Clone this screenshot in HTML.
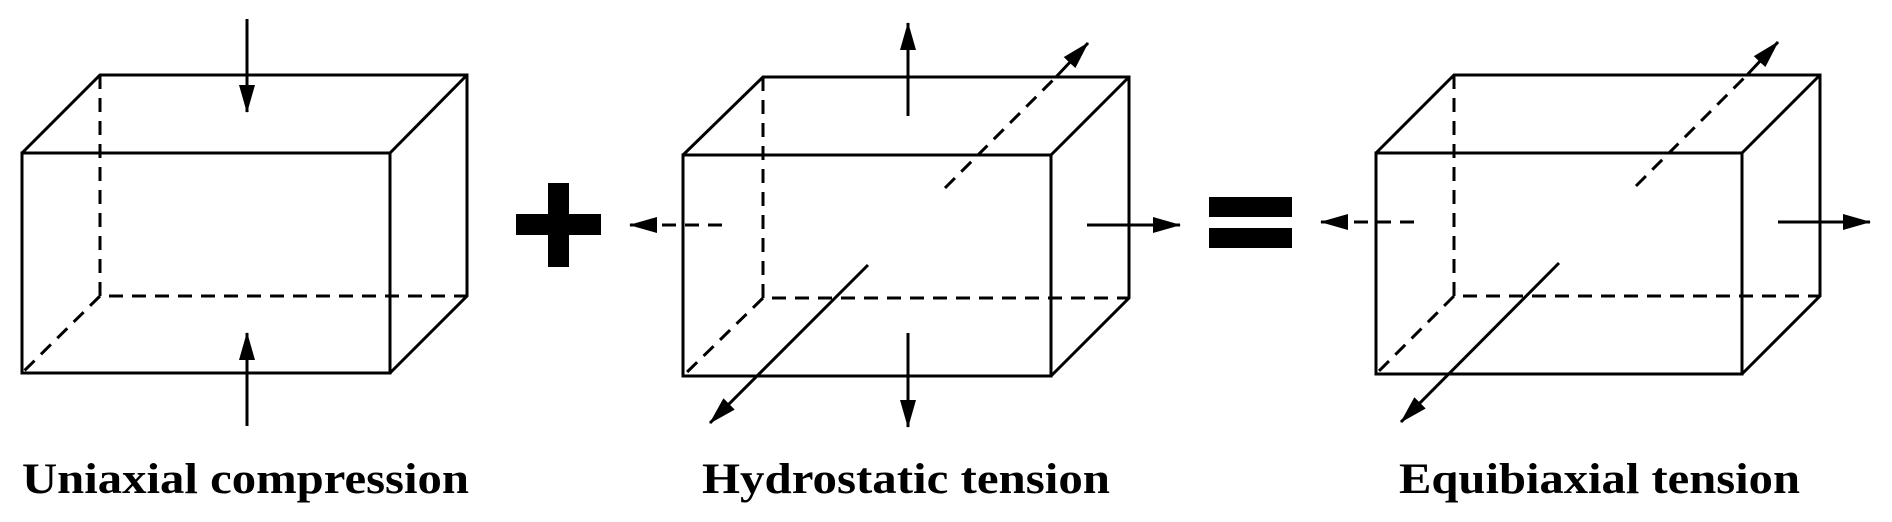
<!DOCTYPE html>
<html><head><meta charset="utf-8"><style>html,body{margin:0;padding:0;background:#fff;}svg{display:block}</style></head>
<body>
<svg width="1892" height="522" viewBox="0 0 1892 522" xmlns="http://www.w3.org/2000/svg">
<defs>
<marker id="a" viewBox="0 0 28 16" refX="27" refY="8" markerWidth="28" markerHeight="16" markerUnits="userSpaceOnUse" orient="auto"><path d="M0,0 L28,8 L0,16 Z" fill="#000"/></marker>
</defs>
<g stroke="#000" stroke-width="3" fill="none" stroke-linecap="butt">
<!-- Box 1 -->
<g>
<path d="M22,153 H390 V373 H22 Z"/>
<path d="M22,153 L100,75 H467 V296 L390,373 M390,153 L467,75"/>
<path d="M100,75 V296 H467 M100,296 L22,373" stroke-dasharray="14,9"/>
<line x1="247" y1="19" x2="247" y2="112" marker-end="url(#a)"/>
<line x1="247" y1="426" x2="247" y2="333" marker-end="url(#a)"/>
</g>
<!-- Box 2 -->
<g>
<path d="M683,155 H1051 V376 H683 Z"/>
<path d="M683,155 L763,77 H1129 V298 L1051,376 M1051,155 L1129,77"/>
<path d="M763,77 V298 H1129 M763,298 L683,376" stroke-dasharray="14,9"/>
<line x1="908" y1="116" x2="908" y2="23" marker-end="url(#a)"/>
<line x1="908" y1="333" x2="908" y2="427" marker-end="url(#a)"/>
<line x1="945" y1="188" x2="1056" y2="77" stroke-dasharray="14,9"/>
<line x1="1056" y1="77" x2="1088" y2="43" marker-end="url(#a)"/>
<line x1="868" y1="265" x2="710" y2="423" marker-end="url(#a)"/>
<line x1="722" y1="225" x2="650" y2="225" stroke-dasharray="14,9"/>
<line x1="652" y1="225" x2="630" y2="225" marker-end="url(#a)"/>
<line x1="1087" y1="225" x2="1180" y2="225" marker-end="url(#a)"/>
</g>
<!-- Box 3 -->
<g>
<path d="M1376,153 H1742 V374 H1376 Z"/>
<path d="M1376,153 L1454,75 H1820 V296 L1742,374 M1742,153 L1820,75"/>
<path d="M1454,75 V296 H1820 M1454,296 L1376,374" stroke-dasharray="14,9"/>
<line x1="1636" y1="186" x2="1747" y2="75" stroke-dasharray="14,9"/>
<line x1="1747" y1="75" x2="1778" y2="42" marker-end="url(#a)"/>
<line x1="1559" y1="263" x2="1401" y2="422" marker-end="url(#a)"/>
<line x1="1414" y1="222" x2="1342" y2="222" stroke-dasharray="14,9"/>
<line x1="1344" y1="222" x2="1321" y2="222" marker-end="url(#a)"/>
<line x1="1778" y1="222" x2="1870" y2="222" marker-end="url(#a)"/>
</g>
</g>
<!-- plus -->
<rect x="548" y="183" width="21" height="84" fill="#000"/>
<rect x="516" y="214" width="85" height="21" fill="#000"/>
<!-- equals -->
<rect x="1209" y="197" width="83" height="20" fill="#000"/>
<rect x="1209" y="228" width="83" height="20" fill="#000"/>
<g font-family="'Liberation Serif', serif" font-weight="bold" font-size="43" fill="#000">
<text x="22" y="493" textLength="447" lengthAdjust="spacingAndGlyphs">Uniaxial compression</text>
<text x="702" y="493" textLength="408" lengthAdjust="spacingAndGlyphs">Hydrostatic tension</text>
<text x="1399" y="493" textLength="401" lengthAdjust="spacingAndGlyphs">Equibiaxial tension</text>
</g>
</svg>
</body></html>
